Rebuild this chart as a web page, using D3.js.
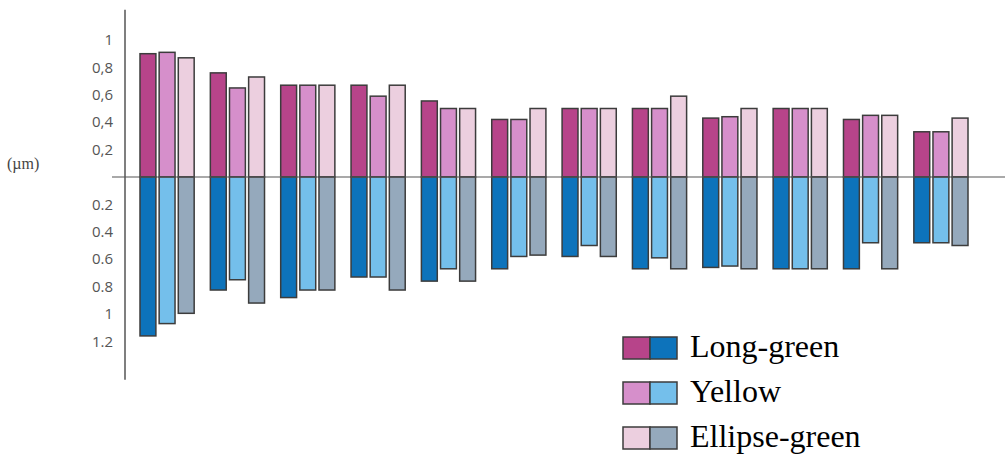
<!DOCTYPE html>
<html><head><meta charset="utf-8">
<script src="https://cdn.jsdelivr.net/npm/d3@7"></script>
<style>html,body{margin:0;padding:0;background:#fff;}svg{display:block;}</style>
</head><body>
<svg id="chart" width="1005" height="457"></svg>
<script>
// Data (µm)
const groups = ["1","2","3","4","5","6","7","8","9","10","11","12"];
const seriesNames = ["Long-green","Yellow","Ellipse-green"];
// upper (positive) values per series
const upLong    = [0.90,0.76,0.67,0.67,0.555,0.42,0.50,0.50,0.43,0.50,0.42,0.33];
const upYellow  = [0.91,0.65,0.67,0.59,0.50,0.42,0.50,0.50,0.44,0.50,0.45,0.33];
const upEllipse = [0.87,0.73,0.67,0.67,0.50,0.50,0.50,0.59,0.50,0.50,0.45,0.43];
// lower (downward) values per series
const downLong    = [1.16,0.825,0.88,0.73,0.76,0.67,0.58,0.67,0.66,0.67,0.67,0.48];
const downYellow  = [1.07,0.75,0.825,0.73,0.67,0.58,0.50,0.59,0.65,0.67,0.48,0.48];
const downEllipse = [0.995,0.92,0.825,0.825,0.76,0.57,0.58,0.67,0.67,0.67,0.67,0.50];
const upTicks = [0.2,0.4,0.6,0.8,1];
const upTickLabels = ["0,2","0,4","0,6","0,8","1"];
const downTicks = [0.2,0.4,0.6,0.8,1,1.2];
const downTickLabels = ["0.2","0.4","0.6","0.8","1","1.2"];
const unitLabel = "(µm)";

const upColors = ["#b7448a","#d68fcb","#eccfdf"];
const downColors = ["#0d73bb","#74bfeb","#95a9bc"];
const stroke = "#3c3c3c";

const svg = d3.select("#chart");
const zeroY = 177, unitPx = 137;
const y = d3.scaleLinear().domain([0,1]).range([zeroY, zeroY-unitPx]);
const x = d3.scaleBand().domain(groups).range([140,968]).paddingInner(0.23).paddingOuter(0);
const xs = d3.scaleBand().domain(seriesNames).range([0,x.bandwidth()]).paddingInner(0.17);

const up = [upLong, upYellow, upEllipse];
const down = [downLong, downYellow, downEllipse];

const bars = [];
groups.forEach((g,i)=>{
  seriesNames.forEach((s,j)=>{
    bars.push({g, s, j, v: up[j][i], dir: 1});
    bars.push({g, s, j, v: down[j][i], dir: -1});
  });
});

svg.append("g").selectAll("rect").data(bars).join("rect")
  .attr("x", d=>x(d.g)+xs(d.s))
  .attr("width", xs.bandwidth())
  .attr("y", d=> d.dir>0 ? y(d.v) : y(0))
  .attr("height", d=> Math.abs(y(d.v)-y(0)))
  .attr("fill", d=> d.dir>0 ? upColors[d.j] : downColors[d.j])
  .attr("stroke", stroke).attr("stroke-width",1.5);

// axes lines
svg.append("line").attr("x1",125).attr("x2",125).attr("y1",y(1.22)).attr("y2",y(-1.48))
  .attr("stroke","#555").attr("stroke-width",1.5);
svg.append("line").attr("x1",112).attr("x2",1005).attr("y1",y(0)).attr("y2",y(0))
  .attr("stroke","#555").attr("stroke-width",1.2);

const tf = "'Open Sans', sans-serif";
svg.append("g").selectAll("text").data(upTicks).join("text")
  .attr("x",113).attr("y",d=>y(d)).attr("dy","0.35em")
  .attr("text-anchor","end").attr("font-family",tf).attr("font-size",15).attr("fill","#555")
  .text((d,i)=>upTickLabels[i]);
svg.append("g").selectAll("text").data(downTicks).join("text")
  .attr("x",113).attr("y",d=>y(-d)).attr("dy","0.35em")
  .attr("text-anchor","end").attr("font-family",tf).attr("font-size",15).attr("fill","#555")
  .text((d,i)=>downTickLabels[i]);
svg.append("text").attr("x",7).attr("y",163).attr("dy","0.35em")
  .attr("font-family","'Liberation Serif', serif").attr("font-size",16).attr("fill","#444")
  .text(unitLabel);

// legend
const lg = svg.append("g").attr("transform","translate(623,337)");
seriesNames.forEach((s,j)=>{
  const row = lg.append("g").attr("transform",`translate(0,${j*45})`);
  row.append("rect").attr("x",0).attr("y",0).attr("width",27).attr("height",22)
    .attr("fill",upColors[j]).attr("stroke",stroke).attr("stroke-width",1.5);
  row.append("rect").attr("x",27).attr("y",0).attr("width",27).attr("height",22)
    .attr("fill",downColors[j]).attr("stroke",stroke).attr("stroke-width",1.5);
  row.append("text").attr("x",67).attr("y",20)
    .attr("font-family","'Liberation Serif', 'Times New Roman', serif").attr("font-size",32).attr("fill","#000")
    .text(s);
});
</script>
</body></html>
